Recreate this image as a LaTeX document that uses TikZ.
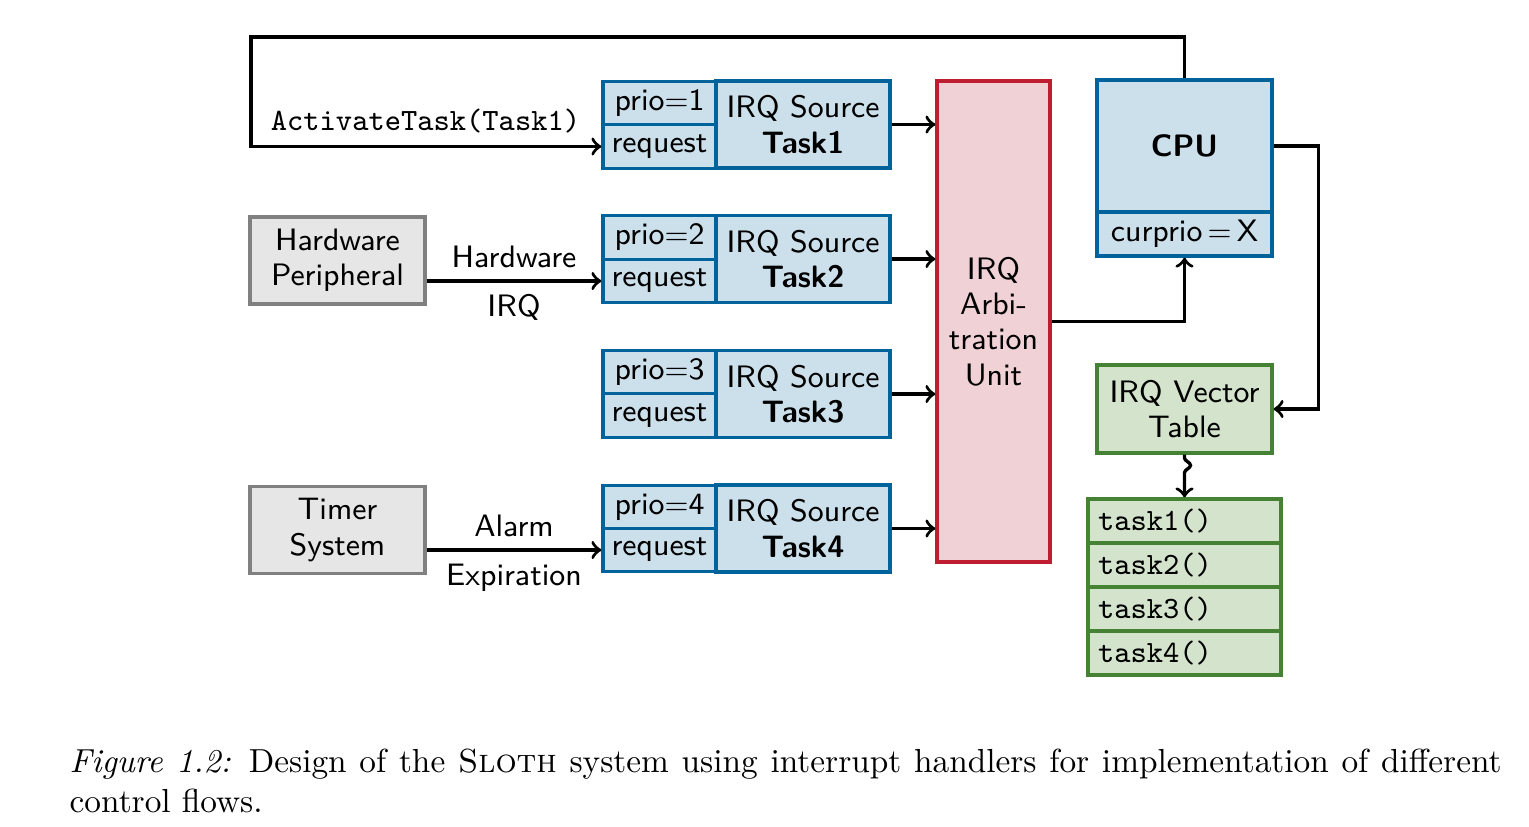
\documentclass[tikz,border=0pt]{standalone}
\usetikzlibrary{decorations.pathmorphing}
\definecolor{srcblue}{RGB}{0,99,155}
\definecolor{srcfill}{RGB}{204,224,236}
\definecolor{arbred}{RGB}{190,30,48}
\definecolor{arbfill}{RGB}{240,210,214}
\definecolor{vecgreen}{RGB}{70,130,52}
\definecolor{vecfill}{RGB}{212,227,204}
\definecolor{devgray}{RGB}{128,128,128}
\definecolor{devfill}{RGB}{230,230,230}
\newcommand{\figfont}{\fontsize{9.3pt}{10.6pt}\selectfont}
\begin{document}
\begin{tikzpicture}[>=to, x=0.3pt, y=-0.3pt, line width=1pt]
    \useasboundingbox (0,0) rectangle (1529,826);
    \tikzset{
        box/.style={rectangle, inner sep=0, align=center, font=\figfont\sffamily},
        cell/.style={box, draw=srcblue, fill=srcfill, minimum width=33.9pt, minimum height=13.05pt},
        source/.style={box, draw=srcblue, fill=srcfill, minimum width=52.2pt, minimum height=26.1pt},
        device/.style={box, draw=devgray, fill=devfill, minimum width=52.5pt, minimum height=26.1pt},
        lbl/.style={font=\figfont\sffamily, inner sep=3.6pt},
        tasklist/.style={rectangle, draw=vecgreen, fill=vecfill, font=\figfont\ttfamily, text width=51.9pt, align=left, inner xsep=3pt, inner ysep=0, minimum height=13.2pt}
    }

    % IRQ sources
    \node[cell] (p1) at (659.5, 103) {prio$=$1};
    \node[cell] (r1) at (659.5, 146.5) {request};
    \node[source] (s1) at (803, 124.5) {IRQ Source\\\textbf{Task1}};
    \node[cell] (p2) at (659.5, 237.5) {prio$=$2};
    \node[cell] (r2) at (659.5, 281) {request};
    \node[source] (s2) at (803, 259) {IRQ Source\\\textbf{Task2}};
    \node[cell] (p3) at (659.5, 372) {prio$=$3};
    \node[cell] (r3) at (659.5, 415.5) {request};
    \node[source] (s3) at (803, 394) {IRQ Source\\\textbf{Task3}};
    \node[cell] (p4) at (659.5, 507) {prio$=$4};
    \node[cell] (r4) at (659.5, 550) {request};
    \node[source] (s4) at (803, 528.5) {IRQ Source\\\textbf{Task4}};

    % devices
    \node[device] (hw) at (337.5, 260.5) {Hardware\\Peripheral};
    \node[device] (timer) at (337.5, 530) {Timer\\System};

    % arbitration, cpu, vector table
    \node[box, draw=arbred, fill=arbfill, minimum width=33.9pt, minimum height=144.3pt] (arb) at (993.5, 321.5) {IRQ\\Arbi-\\tration\\Unit};
    \node[box, draw=srcblue, fill=srcfill, minimum width=52.5pt, minimum height=39.6pt] (cpu) at (1184.5, 146) {\bfseries CPU};
    \node[box, draw=srcblue, fill=srcfill, minimum width=52.5pt, minimum height=13.2pt] (curprio) at (1184.5, 234) {curprio\,$=$\,X};
    \node[box, draw=vecgreen, fill=vecfill, minimum width=52.5pt, minimum height=26.4pt] (ivt) at (1184.5, 409) {IRQ Vector\\Table};
    \node[tasklist] (t1) at (1184.5, 521) {task1()};
    \node[tasklist] (t2) at (1184.5, 565) {task2()};
    \node[tasklist] (t3) at (1184.5, 609) {task3()};
    \node[tasklist] (t4) at (1184.5, 653) {task4()};

    % connections
    \coordinate (loop) at (251, 37);
    \draw[->] (cpu.north) |- (loop) |- (r1);
    \node[lbl, font=\figfont\ttfamily] (act) at (425.5, 121) {ActivateTask(Task1)};
    \draw[->] (hw.east |- r2) -- node[lbl, above] {Hardware} node[lbl, below] {IRQ} (r2);
    \draw[->] (timer.east |- r4) -- node[lbl, above] {Alarm} node[lbl, below] {Expiration} (r4);
    \draw[->] (s1) -- (s1 -| arb.west);
    \draw[->] (s2) -- (s2 -| arb.west);
    \draw[->] (s3) -- (s3 -| arb.west);
    \draw[->] (s4) -- (s4 -| arb.west);
    \draw[->] (arb) -| (curprio);
    \draw[->] (cpu.east) -- ++(45, 0) |- (ivt.east);
    \draw[->, decorate, decoration={snake, amplitude=1.8pt, segment length=7pt, pre length=1pt, post length=5pt}] (ivt) -- (t1);

    % caption
    \node[anchor=north west, inner sep=0, text width=429.6pt, align=justify, font=\normalsize\rmfamily] (caption) at (68, 747)
        {\textit{Figure 1.2:} Design of the \textsc{Sloth} system using interrupt handlers for implementation of different\linebreak control flows.};
\end{tikzpicture}
\end{document}
